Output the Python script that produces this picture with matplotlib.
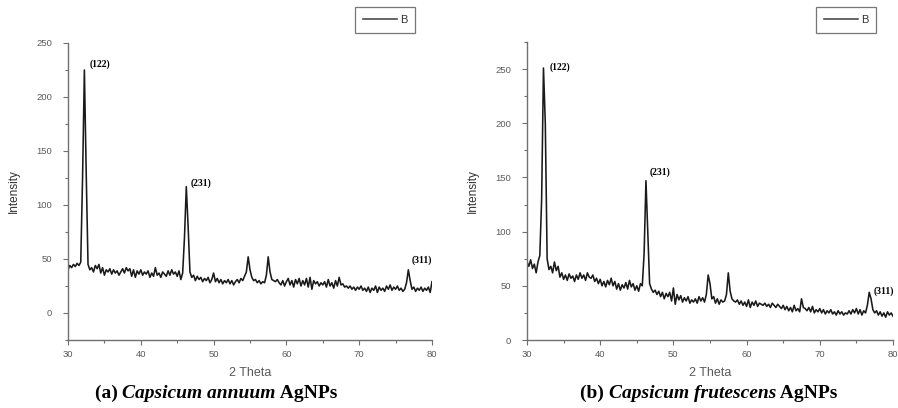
import numpy as np
import matplotlib
matplotlib.use("Agg")
import matplotlib.pyplot as plt
from matplotlib.ticker import MultipleLocator

# hand-read intensities, sampled every 0.25 deg from 30 to 80 (2 Theta)
intensity_a = [
    40, 44, 42, 45, 43, 46, 44, 47, 125, 225, 130, 45,
    40, 42, 38, 44, 41, 45, 37, 42, 35, 40, 38, 41,
    36, 40, 37, 39, 35, 38, 41, 37, 42, 39, 41, 34,
    40, 33, 39, 36, 40, 35, 38, 36, 39, 33, 37, 34,
    42, 35, 37, 33, 38, 36, 34, 39, 35, 40, 36, 38,
    34, 39, 31, 37, 70, 117, 80, 38, 33, 35, 30, 34,
    31, 33, 29, 32, 30, 33, 28, 31, 37, 29, 32, 28,
    31, 27, 30, 28, 31, 27, 30, 26, 29, 31, 28, 32,
    30, 34, 38, 52, 40, 33, 30, 31, 28, 30, 27, 29,
    28, 35, 52, 38, 31, 30, 29, 31, 28, 26, 30, 25,
    29, 32, 26, 30, 24, 31, 27, 32, 25, 30, 26, 32,
    24, 33, 22, 30, 27, 29, 25, 28, 26, 29, 24, 31,
    25, 28, 23, 30, 25, 33, 26, 27, 24, 25, 23, 25,
    22, 24, 21, 24, 22, 25, 21, 23, 20, 24, 19, 23,
    21, 25, 19, 24, 21, 23, 20, 25, 22, 26, 21, 24,
    22, 25, 21, 23, 20, 22, 28, 40, 30, 22, 24, 20,
    23, 21, 24, 20, 23, 21, 24, 19, 29,
]

intensity_b = [
    72, 68, 74, 66, 70, 62, 72, 78, 130, 251, 200, 75,
    65, 68, 62, 72, 64, 68, 58, 62, 56, 60, 55, 61,
    57, 59, 54, 60, 56, 62, 57, 60, 55, 62, 58, 57,
    60, 54, 57, 52, 56, 50, 54, 49, 55, 51, 57, 50,
    54, 47, 52, 46, 51, 48, 53, 47, 55, 49, 52, 46,
    50, 45, 52, 50, 80, 147, 100, 52, 47, 44, 46, 42,
    45, 40, 44, 38, 43, 40, 44, 36, 48, 33, 42, 37,
    41, 35, 39, 36, 40, 34, 37, 35, 38, 34, 40, 36,
    39, 35, 42, 60, 52, 38, 40, 34, 38, 33, 37, 35,
    36, 42, 62, 45, 38, 36, 35, 37, 33, 36, 32, 35,
    31, 37, 30, 35, 32, 36, 31, 34, 33, 32, 34, 31,
    33, 30, 34, 32, 30, 33, 31, 29, 32, 28, 31, 27,
    30, 26, 32, 27, 29, 26, 38, 30, 29, 27, 30, 26,
    31, 25, 28, 26, 29, 25, 28, 24, 27, 25, 28, 24,
    26, 23, 27, 24, 26, 23, 25, 24, 27, 24, 28, 25,
    29, 24, 28, 23, 27, 25, 32, 44, 38, 28, 25, 27,
    23, 26, 22, 25, 21, 26, 23, 25, 22,
]

# peak labels: (text, 2theta, intensity) for where each label sits
peaks_a = [("(122)", 33.0, 230), ("(231)", 46.8, 120), ("(311)", 77.2, 49)]
peaks_b = [("(122)", 33.1, 252), ("(231)", 46.7, 155), ("(311)", 77.4, 45)]

captions = [
    [("(a) ", "normal"), ("Capsicum annuum", "italic"), (" AgNPs", "normal")],
    [("(b) ", "normal"), ("Capsicum frutescens", "italic"), (" AgNPs", "normal")],
]

W, H = 898, 408
fig = plt.figure(figsize=(W / 100, H / 100), dpi=100)
fig.patch.set_facecolor("white")

axis_col = "#707070"
text_col = "#5a5a5a"
sans = "Liberation Sans"
serif = "Liberation Serif"


def panel(rect, y, labels, ylim, yticks, legend_right):
    ax = fig.add_axes(rect)
    x = np.linspace(30, 80, len(y))
    line, = ax.plot(x, y, color="#1a1a1a", lw=1.15, label="B")
    ax.set_xlim(30, 80)
    ax.set_ylim(*ylim)
    ax.set_yticks(yticks)
    ax.xaxis.set_major_locator(MultipleLocator(10))
    ax.xaxis.set_minor_locator(MultipleLocator(5))
    ax.yaxis.set_minor_locator(MultipleLocator(25))
    for s in ("top", "right"):
        ax.spines[s].set_visible(False)
    for s in ("left", "bottom"):
        ax.spines[s].set_color(axis_col)
        ax.spines[s].set_linewidth(1.0)
    ax.tick_params(which="both", direction="out", colors=axis_col,
                   labelcolor=text_col, labelsize=6.8, width=0.8)
    ax.tick_params(which="major", length=3.5)
    ax.tick_params(which="minor", length=2.5)
    ax.tick_params(axis="y", pad=8)
    for lab in ax.get_xticklabels() + ax.get_yticklabels():
        lab.set_family(sans)
    ax.set_xlabel("2 Theta", fontsize=9, color=text_col, family=sans, labelpad=6)
    ax.set_ylabel("Intensity", fontsize=8.5, color="#333333", family=sans, labelpad=12)
    for txt, px, py in labels:
        ax.text(px, py, txt, fontsize=7, fontweight="bold", family=serif,
                va="center", ha="left", clip_on=False)
    leg = ax.legend(handles=[line], loc="upper right",
                    bbox_to_anchor=(legend_right / W, 1 - 7 / H),
                    bbox_transform=fig.transFigure, fancybox=False,
                    frameon=True, fontsize=8, handlelength=3.0,
                    borderpad=0.7, handletextpad=0.3, borderaxespad=0)
    leg.get_frame().set_edgecolor("#555555")
    leg.get_frame().set_linewidth(0.9)
    for t in leg.get_texts():
        t.set_color("#333333")
        t.set_family(sans)
    for h in leg.get_lines():
        h.set_color("#444444")
    return ax


panel([68 / W, 1 - 340 / H, 364 / W, 297 / H], intensity_a, peaks_a,
      (-25, 250), [0, 50, 100, 150, 200, 250], 415)
panel([527 / W, 1 - 340 / H, 366 / W, 298 / H], intensity_b, peaks_b,
      (0, 275), [0, 50, 100, 150, 200, 250], 876)

# captions with mixed roman/italic pieces, centred under each panel
renderer = fig.canvas.get_renderer()
for parts, xc in zip(captions, [216, 709]):
    texts = [fig.text(0, 1 - 393 / H, s, fontsize=14, fontweight="bold",
                      style=st, family=serif, va="center", ha="left")
             for s, st in parts]
    widths = [t.get_window_extent(renderer).width for t in texts]
    xpos = xc - sum(widths) / 2
    for t, w in zip(texts, widths):
        t.set_x(xpos / W)
        xpos += w

fig.savefig("out.png", dpi=100)
